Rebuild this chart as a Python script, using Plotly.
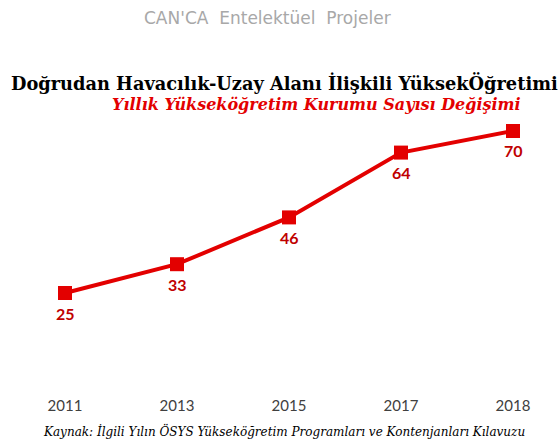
import plotly.graph_objects as go

years = ["2011", "2013", "2015", "2017", "2018"]
counts = [25, 33, 46, 64, 70]

title_text = "Doğrudan Havacılık-Uzay Alanı İlişkili YüksekÖğretimi"
subtitle_text = "Yıllık Yükseköğretim Kurumu Sayısı Değişimi"
source_text = "Kaynak: İlgili Yılın ÖSYS Yükseköğretim Programları ve Kontenjanları Kılavuzu"
watermark_text = "CAN'CA  Entelektüel  Projeler"

W, H = 560, 443
ml, mr, mt, mb = 20, 20, 110, 48
plot_h = H - mt - mb

def py(pix):
    return (H - mb - pix) / plot_h

def px(pix):
    return (pix - ml) / (W - ml - mr)

fig = go.Figure()
fig.add_trace(go.Scatter(
    x=years, y=counts, mode="lines+markers",
    line=dict(color="#E30000", width=4),
    marker=dict(symbol="square", size=14, color="#E30000"),
    cliponaxis=False, hoverinfo="skip",
))

annotations = [
    dict(text=str(v), x=i, y=v, xref="x", yref="y", showarrow=False, yshift=-20,
         font=dict(family="Lato", size=16, color="#C00000", weight="bold"),
         xanchor="center", yanchor="middle")
    for i, v in enumerate(counts)
]

annotations += [
    dict(text=watermark_text, xref="paper", yref="paper", x=px(267), y=py(18),
         showarrow=False, font=dict(family="DejaVu Sans", size=17, color="#a8a8a8"),
         xanchor="center", yanchor="middle"),
    dict(text="<b>" + title_text + "</b>", xref="paper", yref="paper", x=px(284.5), y=py(83),
         showarrow=False, font=dict(family="DejaVu Serif", size=17.8, color="black"),
         xanchor="center", yanchor="middle"),
    dict(text="<b><i>" + subtitle_text + "</i></b>", xref="paper", yref="paper", x=px(316), y=py(105),
         showarrow=False, font=dict(family="DejaVu Serif", size=16, color="#E30000"),
         xanchor="center", yanchor="middle"),
    dict(text="<i>" + source_text + "</i>", xref="paper", yref="paper", x=px(283.5), y=py(431),
         showarrow=False, font=dict(family="DejaVu Serif", size=12, color="black"),
         xanchor="center", yanchor="middle"),
]

fig.update_layout(
    width=W, height=H,
    margin=dict(l=ml, r=mr, t=mt, b=mb),
    paper_bgcolor="white", plot_bgcolor="white",
    showlegend=False,
    xaxis=dict(type="category", range=[-0.402, 4.241], showgrid=False, zeroline=False,
               showline=False, ticks="",
               tickfont=dict(family="Lato", size=15, color="#404040")),
    yaxis=dict(range=[-3.33, 75.83], visible=False),
    annotations=annotations,
)

fig.write_html("out.html")
